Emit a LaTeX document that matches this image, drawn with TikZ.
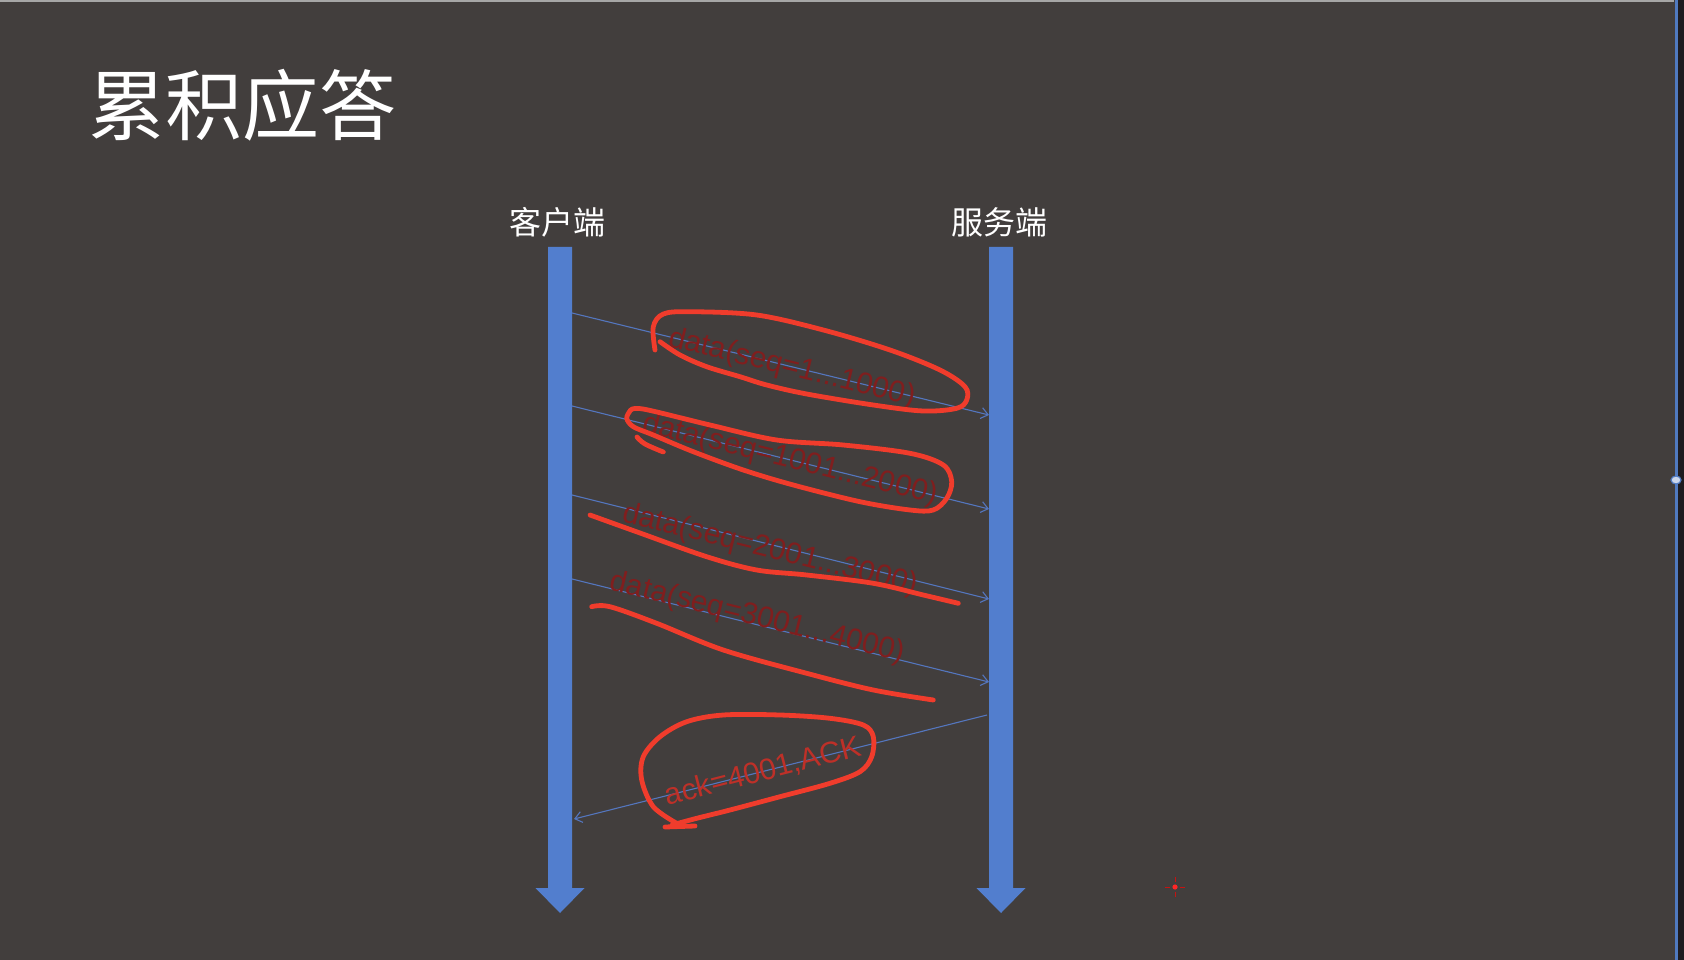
\documentclass[tikz,border=0pt]{standalone}
\usepackage{fontspec}
\setmainfont{Liberation Sans}
\newfontfamily\cjk{Noto Sans CJK SC}
\usetikzlibrary{arrows.meta}
\definecolor{bg}{RGB}{66,62,61}
\definecolor{barblue}{RGB}{82,126,206}
\definecolor{msgblue}{RGB}{84,118,190}
\definecolor{inkred}{RGB}{240,60,44}
\definecolor{lbldark}{RGB}{128,30,30}
\definecolor{lblack}{RGB}{190,48,40}
\definecolor{edgeblue}{RGB}{80,122,192}
\definecolor{edgedark}{RGB}{30,28,32}
\tikzset{
  lifebar/.style={fill=barblue},
  msg/.style={draw=msgblue, line width=1.1pt, -{Straight Barb[length=7pt,width=11pt,line width=1.1pt]}},
  datalbl/.style={text=lbldark, inner sep=0pt, font=\fontsize{30}{32}\selectfont},
  acklbl/.style={text=lblack, inner sep=0pt, font=\fontsize{30}{32}\selectfont},
  ink/.style={draw=inkred, line width=4.8pt, line cap=round, line join=round},
  headlbl/.style={text=white, inner sep=0pt, anchor=base, font=\cjk\fontsize{32}{34}\selectfont}
}
\begin{document}
\begin{tikzpicture}[x=1pt,y=-1pt]
\useasboundingbox (0,0) rectangle (1684,960);
\fill[bg] (0,0) rectangle (1684,960);
% edges of the screenshot
\draw[gray!70, line width=2pt] (0,1) -- (1674,1);
\fill[edgedark] (1678,0) rectangle (1684,960);
\draw[edgeblue, line width=3pt] (1676,0) -- (1676,960);
\draw[edgeblue, fill=white!70!edgeblue, line width=1.2pt] (1676,480) ellipse (5 and 4);

% title
\node[anchor=base west, inner sep=0pt, text=white, font=\cjk\fontsize{77}{80}\selectfont] (title) at (88,135) {累积应答};

% headers
\node[headlbl] (client) at (557.5,234) {客户端};
\node[headlbl] (server) at (999,234) {服务端};

% lifelines
\fill[lifebar] (548,247) -- (572,247) -- (572,888) -- (584.5,888) -- (560,913) -- (535.5,888) -- (548,888) -- cycle;
\fill[lifebar] (989,247) -- (1013,247) -- (1013,888) -- (1025.5,888) -- (1001,913) -- (976.5,888) -- (989,888) -- cycle;

% message end points
\coordinate (c1) at (572,313); \coordinate (s1) at (989,415);
\coordinate (c2) at (572,406); \coordinate (s2) at (989,509);
\coordinate (c3) at (572,495); \coordinate (s3) at (989,599);
\coordinate (c4) at (572,579); \coordinate (s4) at (989,682);
\coordinate (s5) at (987,715); \coordinate (c5) at (574,819);

\draw[msg] (c1) -- (s1);
\draw[msg] (c2) -- (s2);
\draw[msg] (c3) -- (s3);
\draw[msg] (c4) -- (s4);
\draw[msg] (s5) -- (c5);

% labels
\node[datalbl, rotate=-13.75] (l1) at (792,368.5) {data(seq=1...1000)};
\node[datalbl, rotate=-13.75] (l2) at (790,460) {data(seq=1001...2000)};
\node[datalbl, rotate=-13.75] (l3) at (770,550) {data(seq=2001...3000)};
\node[datalbl, rotate=-13.75] (l4) at (757.5,618) {data(seq=3001...4000)};
\node[acklbl, rotate=14.4] (l5) at (763,771.7) {ack=4001,ACK};

% red hand annotations
\draw[ink] plot[smooth, tension=0.55] coordinates {(655,350) (653.3,326.7) (663.3,314) (690,311.7) (756.7,315) (823.3,330) (890,350) (940,370) (965,386.7) (966.7,400) (956.7,408.3) (923.3,411) (873.3,405) (806.7,394) (766.7,385) (740,376.7) (706.7,366.7) (680,355) (660,341.7)};
\draw[ink] plot[smooth, tension=0.55] coordinates {(630,411) (643,409) (710,425) (776.7,440) (843.3,445) (910,453.3) (943.3,465) (951.7,481.7) (946.7,498.3) (933.3,510) (910,510) (860,501.7) (793.3,485) (743.3,470) (693.3,451.7) (653.3,435) (633.3,426.7) (626.7,418.3) (630,411)};
\draw[ink] plot[smooth, tension=0.6] coordinates {(663.3,452) (645,444) (637,437)};
\draw[ink] plot[smooth, tension=0.55] coordinates {(590,515) (640,533) (706.7,556.7) (756.7,570) (806.7,575) (873.3,583.3) (923.3,595) (958.3,603.3)};
\draw[ink] plot[smooth, tension=0.55] coordinates {(591.7,606.7) (610,606.7) (656.7,623.3) (723.3,650) (806.7,673.3) (873.3,690) (933.3,700)};
\draw[ink] plot[smooth, tension=0.55] coordinates {(676.7,823.3) (653.3,806.7) (641.7,780) (643.3,756.7) (660,736.7) (686.7,721.7) (723.3,715) (780,715) (830,718.3) (863.3,725) (873.3,736.7) (871.7,756.7) (860,771.7) (830,783.3) (780,796.7) (730,810) (696.7,818.3) (672,825)};
\draw[ink] (665,827) -- (695,826);

% pointer mark
\fill[red!85!white] (1175,887) circle (2.6);
\draw[red!70!bg, line width=1pt] (1165,887) -- (1170,887) (1180,887) -- (1185,887) (1175,877) -- (1175,882) (1175,892) -- (1175,897);
\end{tikzpicture}
\end{document}
